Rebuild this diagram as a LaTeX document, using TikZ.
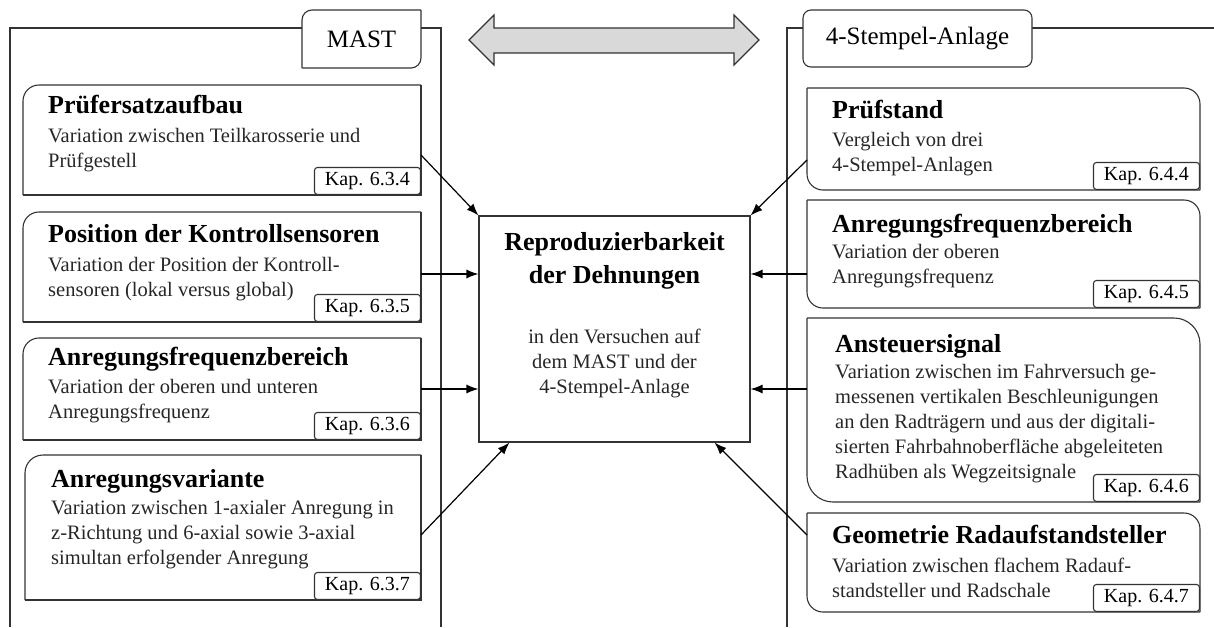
\documentclass[tikz,border=0pt]{standalone}
\usepackage{fontspec}
\setmainfont{Liberation Serif}
\usetikzlibrary{arrows.meta}

\tikzset{
  rahmen/.style={draw=black!80, line width=1.1pt},
  feld/.style={inner sep=0pt, outer sep=0pt, anchor=north west},
  titel/.style={inner sep=0pt, anchor=base west, font=\fontsize{26}{33}\selectfont\bfseries},
  % base = Grundlinie der letzten Zeile
  beschr/.style={inner sep=0pt, anchor=base west, align=left, text=black!85, font=\fontsize{20.5}{25}\selectfont},
  kap/.style={rahmen, fill=white, rounded corners=3pt, minimum width=106pt, minimum height=27pt, inner sep=0pt, anchor=south east, font=\fontsize{20}{24}\selectfont},
  pfeil/.style={-{Latex[length=12pt,width=9pt]}, line width=1.2pt}
}

\begin{document}
\begin{tikzpicture}[x=1pt, y=-1pt]
\useasboundingbox (0,0) rectangle (1214,627);

% die beiden offenen Rahmen
\draw[rahmen, line width=1.4pt] (10,627) -- (10,28) -- (441,28) -- (441,627);
\draw[rahmen, line width=1.4pt] (787,627) -- (787,28) -- (1214,28);

% Reiter
\node[feld, fill=white, minimum width=119pt, minimum height=58pt, font=\fontsize{25}{28}\selectfont] (mast) at (302,10) {MAST};
\draw[rahmen, rounded corners=10pt] (mast.south west) -- (mast.north west) -- (mast.north east);
\draw[rahmen, rounded corners=10pt] (mast.north east) -- (mast.south east) -- (mast.south west);
\node[feld, rahmen, fill=white, rounded corners=8pt, minimum width=229pt, minimum height=57pt, font=\fontsize{25}{28}\selectfont] (stempel) at (803,10) {4-Stempel-Anlage};

% Doppelpfeil oben
\draw[rahmen, fill=black!15] (469,40) -- (494,15) -- (494,28) -- (734,28) -- (734,15) -- (759,40)
  -- (734,65) -- (734,53) -- (494,53) -- (494,65) -- cycle;

% Mitte
\node[rahmen, fill=white, minimum width=271pt, minimum height=226pt, inner sep=0pt] (repro) at (614.5,329) {};
\node[titel, anchor=base, align=center] (reproT) at (614.5,283) {Reproduzierbarkeit\\der Dehnungen};
\node[beschr, anchor=base, align=center] (reproB) at (614.5,393) {in den Versuchen auf\\dem MAST und der\\4-Stempel-Anlage};

% MAST: Kästen links
\node[feld, minimum width=398pt, minimum height=110pt] (aufbau) at (23,85) {};
\draw[rahmen, rounded corners=16pt] (aufbau.south west) -- (aufbau.north west) -- (aufbau.north east);
\draw[rahmen] (aufbau.north east) -- (aufbau.south east) -- (aufbau.south west);
\node[titel] (aufbauT) at (48,113) {Prüfersatzaufbau};
\node[beschr] (aufbauB) at (48,167) {Variation zwischen Teilkarosserie und\\Prüfgestell};
\node[kap] (aufbauK) at (aufbau.south east) {Kap. 6.3.4};

\node[feld, minimum width=398pt, minimum height=110pt] (sensoren) at (23,212) {};
\draw[rahmen, rounded corners=16pt] (sensoren.south west) -- (sensoren.north west) -- (sensoren.north east);
\draw[rahmen] (sensoren.north east) -- (sensoren.south east) -- (sensoren.south west);
\node[titel] (sensorenT) at (48,242) {Position der Kontrollsensoren};
\node[beschr] (sensorenB) at (48,296) {Variation der Position der Kontroll-\\sensoren (lokal versus global)};
\node[kap] (sensorenK) at (sensoren.south east) {Kap. 6.3.5};

\node[feld, minimum width=398pt, minimum height=102pt] (frequenzL) at (23,338) {};
\draw[rahmen, rounded corners=16pt] (frequenzL.south west) -- (frequenzL.north west) -- (frequenzL.north east);
\draw[rahmen] (frequenzL.north east) -- (frequenzL.south east) -- (frequenzL.south west);
\node[titel] (frequenzLT) at (48,365) {Anregungsfrequenzbereich};
\node[beschr] (frequenzLB) at (48,418) {Variation der oberen und unteren\\Anregungsfrequenz};
\node[kap] (frequenzLK) at (frequenzL.south east) {Kap. 6.3.6};

\node[feld, minimum width=396pt, minimum height=145pt] (variante) at (25,455) {};
\draw[rahmen, rounded corners=18pt] (variante.south west) -- (variante.north west) -- (variante.north east);
\draw[rahmen] (variante.north east) -- (variante.south east) -- (variante.south west);
\node[titel] (varianteT) at (51,487) {Anregungsvariante};
\node[beschr] (varianteB) at (51,564) {Variation zwischen 1-axialer Anregung in\\z-Richtung und 6-axial sowie 3-axial\\simultan erfolgender Anregung};
\node[kap] (varianteK) at (variante.south east) {Kap. 6.3.7};

% 4-Stempel-Anlage: Kästen rechts
\node[feld, minimum width=393pt, minimum height=102pt] (pruefstand) at (807,88) {};
\draw[rahmen, rounded corners=16pt] (pruefstand.north west) -- (pruefstand.north east) -- (pruefstand.south east);
\draw[rahmen, rounded corners=16pt] (pruefstand.south east) -- (pruefstand.south west) -- (pruefstand.north west);
\node[titel] (pruefstandT) at (832,118) {Prüfstand};
\node[beschr] (pruefstandB) at (832,171) {Vergleich von drei\\4-Stempel-Anlagen};
\node[kap] (pruefstandK) at (pruefstand.south east) {Kap. 6.4.4};

\node[feld, minimum width=393pt, minimum height=108pt] (frequenzR) at (807,200) {};
\draw[rahmen, rounded corners=16pt] (frequenzR.north west) -- (frequenzR.north east) -- (frequenzR.south east);
\draw[rahmen, rounded corners=16pt] (frequenzR.south east) -- (frequenzR.south west) -- (frequenzR.north west);
\node[titel] (frequenzRT) at (832,232) {Anregungsfrequenzbereich};
\node[beschr] (frequenzRB) at (832,283) {Variation der oberen\\Anregungsfrequenz};
\node[kap] (frequenzRK) at (frequenzR.south east) {Kap. 6.4.5};

\node[feld, minimum width=393pt, minimum height=184pt] (signal) at (807,318) {};
\draw[rahmen, rounded corners=26pt] (signal.north west) -- (signal.north east) -- (signal.south east);
\draw[rahmen, rounded corners=26pt] (signal.south east) -- (signal.south west) -- (signal.north west);
\node[titel] (signalT) at (835,352) {Ansteuersignal};
\node[beschr] (signalB) at (835,478) {Variation zwischen im Fahrversuch ge-\\messenen vertikalen Beschleunigungen\\an den Radträgern und aus der digitali-\\sierten Fahrbahnoberfläche abgeleiteten\\Radhüben als Wegzeitsignale};
\node[kap] (signalK) at (signal.south east) {Kap. 6.4.6};

\node[feld, minimum width=393pt, minimum height=99pt] (teller) at (807,513) {};
\draw[rahmen, rounded corners=16pt] (teller.north west) -- (teller.north east) -- (teller.south east);
\draw[rahmen, rounded corners=16pt] (teller.south east) -- (teller.south west) -- (teller.north west);
\node[titel] (tellerT) at (832,543) {Geometrie Radaufstandsteller};
\node[beschr] (tellerB) at (832,597) {Variation zwischen flachem Radauf-\\standsteller und Radschale};
\node[kap] (tellerK) at (teller.south east) {Kap. 6.4.7};

% Pfeile zur Mitte
\coordinate (oben) at (0,274);
\coordinate (unten) at (0,389);
\draw[pfeil] (aufbau.east |- 0,155) -- (repro.north west);
\draw[pfeil] (sensoren.east |- oben) -- (repro.west |- oben);
\draw[pfeil] (frequenzL.east |- unten) -- (repro.west |- unten);
\draw[pfeil] (variante.east |- 0,535) -- ([xshift=31pt]repro.south west);
\draw[pfeil] (pruefstand.west |- 0,160) -- (repro.north east);
\draw[pfeil] (frequenzR.west |- oben) -- (repro.east |- oben);
\draw[pfeil] (signal.west |- unten) -- (repro.east |- unten);
\draw[pfeil] (teller.west |- 0,535) -- ([xshift=-36pt]repro.south east);
\end{tikzpicture}
\end{document}
